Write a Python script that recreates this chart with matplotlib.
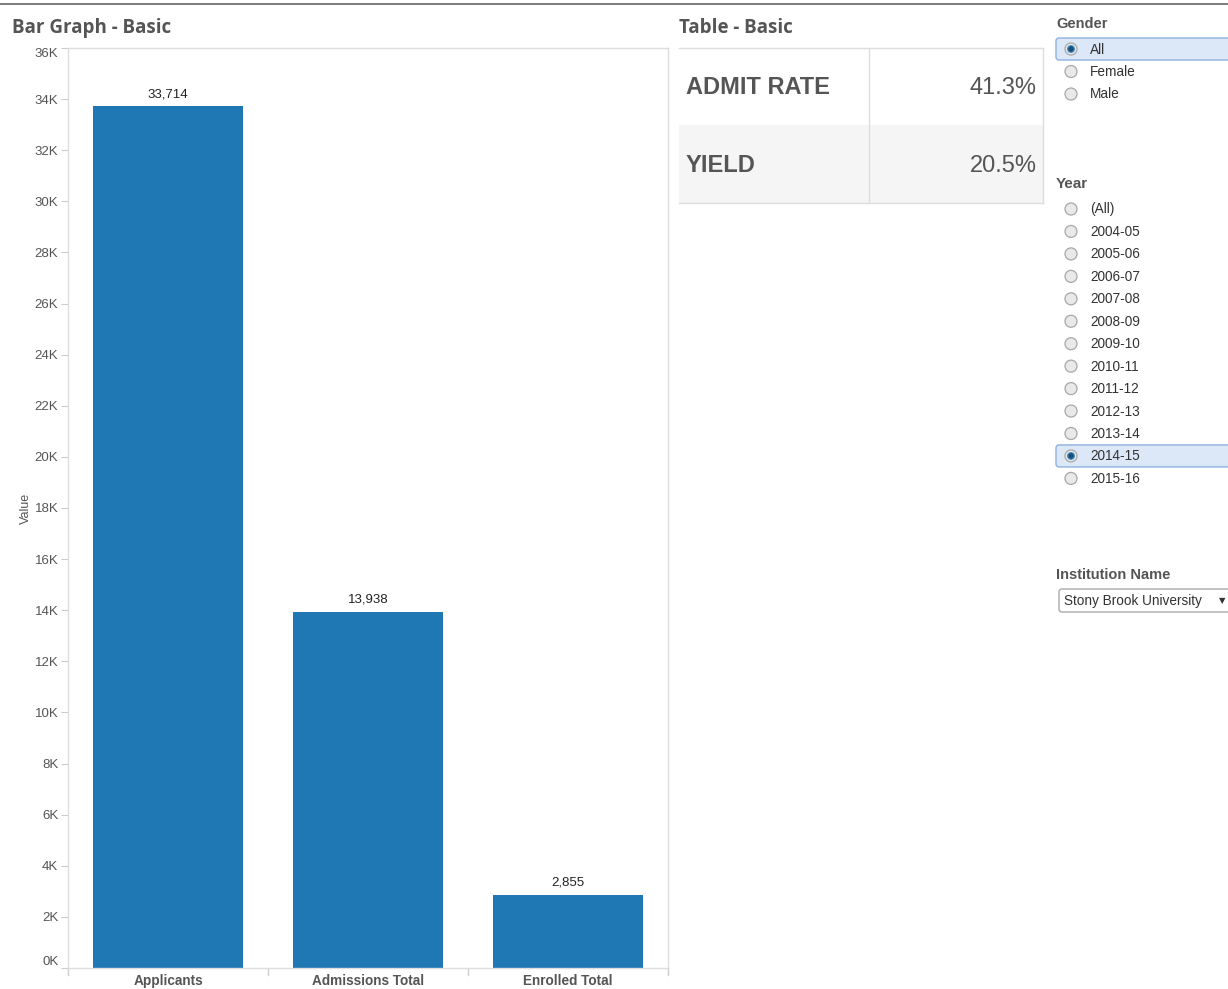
import matplotlib
matplotlib.use("Agg")
import matplotlib.pyplot as plt
from matplotlib.patches import Rectangle, Circle, FancyBboxPatch
from matplotlib.ticker import FuncFormatter, FixedLocator

# ---------------- data ----------------
categories = ["Applicants", "Admissions Total", "Enrolled Total"]
values = [33714, 13938, 2855]
y_ticks = list(range(0, 36001, 2000))

table_metrics = ["ADMIT RATE", "YIELD"]
table_values = ["41.3%", "20.5%"]

gender_options = ["All", "Female", "Male"]
gender_selected = "All"
year_options = ["(All)", "2004-05", "2005-06", "2006-07", "2007-08", "2008-09",
                "2009-10", "2010-11", "2011-12", "2012-13", "2013-14", "2014-15",
                "2015-16"]
year_selected = "2014-15"
institution = "Stony Brook University"

# ---------------- figure ----------------
W, H = 1228, 989
fig = plt.figure(figsize=(W / 100, H / 100), dpi=100)
fig.patch.set_facecolor("white")

FONT = ["Liberation Sans", "DejaVu Sans"]
TFONT = ["Open Sans", "DejaVu Sans"]
BAR_C = "#1f77b4"
TXT = "#555555"

# overlay axes in pixel coordinates
ov = fig.add_axes([0, 0, 1, 1])
ov.set_xlim(0, W)
ov.set_ylim(H, 0)
ov.axis("off")

# top separator line
ov.plot([0, W], [4, 4], color="#666666", lw=1.2)

# titles
ov.text(12, 28, "Bar Graph - Basic", family=TFONT, weight="bold", fontsize=13.5,
        color=TXT, va="center", ha="left")
ov.text(679, 28, "Table - Basic", family=TFONT, weight="bold", fontsize=13.5,
        color=TXT, va="center", ha="left")

# ---------------- bar chart ----------------
def px_rect(x0, y0, x1, y1):
    return [x0 / W, 1 - y1 / H, (x1 - x0) / W, (y1 - y0) / H]

ax = fig.add_axes(px_rect(68, 48, 668, 968))
x = list(range(len(categories)))
ax.bar(x, values, width=0.75, color=BAR_C, zorder=2)
ax.set_xlim(-0.5, len(categories) - 0.5)
ax.set_ylim(0, 36000)
ax.yaxis.set_major_locator(FixedLocator(y_ticks))
ax.yaxis.set_major_formatter(FuncFormatter(lambda v, p: f"{int(v/1000)}K"))
for s in ax.spines.values():
    s.set_color("#dddddd")
    s.set_linewidth(1)
ax.tick_params(axis="y", length=5, color="#cccccc", labelsize=9.5,
               labelcolor=TXT, pad=2)
for lab in ax.get_yticklabels():
    lab.set_family(FONT)
# keep end labels inside the axis range, as Tableau does
ylabs = ax.get_yticklabels()
ylabs[-1].set_va("top")
ylabs[0].set_va("bottom")

ax.set_xticks([])
ax.set_ylabel("Value", family=FONT, fontsize=9, color=TXT, labelpad=2)

for xi, v in zip(x, values):
    ax.text(xi, v + 250, f"{v:,}", ha="center", va="bottom", family=FONT,
            fontsize=9.5, color="#222222")

# category separators and labels (pixel overlay)
for sx in [68, 268, 468, 668]:
    ov.plot([sx, sx], [968, 975], color="#cccccc", lw=1)
for i, c in enumerate(categories):
    cx = 68 + 200 * i + 100
    ov.text(cx, 981, c, ha="center", va="center", family=FONT, weight="bold",
            fontsize=9.8, color=TXT)

# ---------------- table ----------------
tx0, tx1, tcol = 679, 1043, 869
row_y = [48, 125, 203]
ov.add_patch(Rectangle((tx0, row_y[1]), tx1 - tx0, row_y[2] - row_y[1],
                       facecolor="#f5f5f5", edgecolor="none", zorder=1))
ov.plot([tx0, tx1], [row_y[0], row_y[0]], color="#dddddd", lw=1, zorder=2)
ov.plot([tx0, tx1], [row_y[2], row_y[2]], color="#dddddd", lw=1, zorder=2)
ov.plot([tx1, tx1], [row_y[0], row_y[2]], color="#dddddd", lw=1, zorder=2)
ov.plot([tcol, tcol], [row_y[0], row_y[2]], color="#dddddd", lw=1, zorder=2)
for i, (m, v) in enumerate(zip(table_metrics, table_values)):
    cy = (row_y[i] + row_y[i + 1]) / 2 + 1.5
    ov.text(686, cy, m, family=FONT, weight="bold", fontsize=17, color=TXT,
            ha="left", va="center", zorder=3)
    ov.text(1037, cy, v, family=FONT, fontsize=17, color=TXT,
            ha="right", va="center", zorder=3)

# ---------------- filter panels ----------------
def radio(cx, cy, selected):
    ov.add_patch(Circle((cx, cy), 6, facecolor="#e9e9e9", edgecolor="#a8a8a8",
                        lw=0.9, zorder=4))
    if selected:
        ov.add_patch(Circle((cx, cy), 3.4, facecolor="#1b4f7a",
                            edgecolor="#4a90c8", lw=0.8, zorder=5))

def select_box(y0, y1):
    ov.add_patch(FancyBboxPatch((1056, y0), W - 1056 + 10, y1 - y0,
                                boxstyle="round,pad=0,rounding_size=3",
                                facecolor="#dce8f8", edgecolor="#8db0e0",
                                lw=1, zorder=3))

ov.text(1056, 24, "Gender", family=FONT, weight="bold", fontsize=10.5,
        color=TXT, ha="left", va="center")
g_y0, g_dy = 49, 22.5
for i, g in enumerate(gender_options):
    cy = g_y0 + g_dy * i
    if g == gender_selected:
        select_box(cy - 11, cy + 11)
    radio(1071, cy, g == gender_selected)
    ov.text(1090, cy + 0.5, g, family=FONT, fontsize=9.8, color="#333333",
            ha="left", va="center", zorder=6)

ov.text(1056, 184, "Year", family=FONT, weight="bold", fontsize=11,
        color=TXT, ha="left", va="center")
y_y0, y_dy = 209, 22.45
for i, yr in enumerate(year_options):
    cy = y_y0 + y_dy * i
    if yr == year_selected:
        select_box(cy - 11, cy + 11)
    radio(1071, cy, yr == year_selected)
    ov.text(1090, cy + 0.5, yr, family=FONT, fontsize=9.8, color="#333333",
            ha="left", va="center", zorder=6)

ov.text(1056, 575, "Institution Name", family=FONT, weight="bold", fontsize=10.5,
        color=TXT, ha="left", va="center")
ov.add_patch(FancyBboxPatch((1059, 589), W - 1059 + 10, 23,
                            boxstyle="round,pad=0,rounding_size=3",
                            facecolor="white", edgecolor="#aaaaaa", lw=1,
                            zorder=3))
ov.text(1064, 601.5, institution, family=FONT, fontsize=9.8, color="#333333",
        ha="left", va="center", zorder=4)
ov.text(1222, 601, "\u25BC", family=["DejaVu Sans"], fontsize=6,
        color="#333333", ha="center", va="center", zorder=4)

fig.savefig("out.png", dpi=100, facecolor="white")
